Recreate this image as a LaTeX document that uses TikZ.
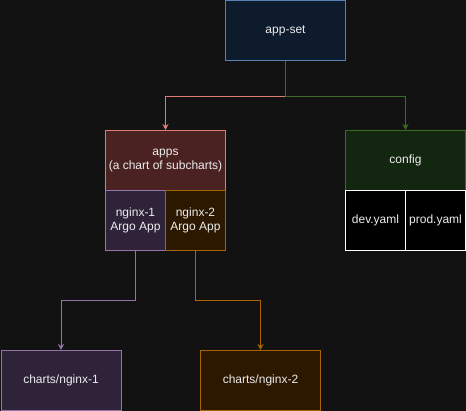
\documentclass[tikz,border=0pt]{standalone}
\usepackage{fontspec}
\setmainfont{Liberation Sans}
\usetikzlibrary{arrows.meta}
\definecolor{bg}{HTML}{121212}
\definecolor{txt}{HTML}{EDEDED}
\definecolor{setfill}{HTML}{0D1B2D}
\definecolor{setline}{HTML}{5A7FB3}
\definecolor{appsfill}{HTML}{4A2222}
\definecolor{appsline}{HTML}{DE7C78}
\definecolor{onefill}{HTML}{2E2338}
\definecolor{oneline}{HTML}{9673A6}
\definecolor{twofill}{HTML}{2C1700}
\definecolor{twoline}{HTML}{A86500}
\definecolor{cfgfill}{HTML}{13260F}
\definecolor{cfgline}{HTML}{3D6B24}

\begin{document}
\begin{tikzpicture}[x=1pt,y=-1pt,
    box/.style={draw,rectangle,minimum width=120pt,minimum height=60pt,inner sep=0pt,
      anchor=north west,text=txt,align=center,line width=1pt,
      font=\fontsize{12}{14}\selectfont},
    half/.style={box,minimum width=60pt},
    link/.style={-{Stealth[length=6pt,width=6pt]},line width=1pt}]
    % background
    \fill[bg] (0,0) rectangle (466,411);
    % boxes
    \node[box,draw=setline,fill=setfill] (appset) at (225,0.5) {app-set};
    \node[box,draw=appsline,fill=appsfill] (apps) at (105,130) {apps\\(a chart of subcharts)};
    \node[half,draw=oneline,fill=onefill] (nginx1) at (105,190) {nginx-1\\Argo App};
    \node[half,draw=twoline,fill=twofill] (nginx2) at (165,190) {nginx-2\\Argo App};
    \node[box,draw=cfgline,fill=cfgfill] (config) at (345,130) {config};
    \node[half,draw=white,fill=black] (dev) at (345,190) {dev.yaml};
    \node[half,draw=white,fill=black] (prod) at (405,190) {prod.yaml};
    \node[box,draw=oneline,fill=onefill] (chart1) at (0.5,350) {charts/nginx-1};
    \node[box,draw=twoline,fill=twofill] (chart2) at (200,350) {charts/nginx-2};
    % links
    \draw[link,appsline] (appset.south) -- ++(0,35) -| (apps.north);
    \draw[link,cfgline] (appset.south) -- ++(0,35) -| (config.north);
    \draw[link,oneline] (nginx1.south) -- ++(0,50) -| (chart1.north);
    \draw[link,twoline] (nginx2.south) -- ++(0,50) -| (chart2.north);
\end{tikzpicture}
\end{document}
